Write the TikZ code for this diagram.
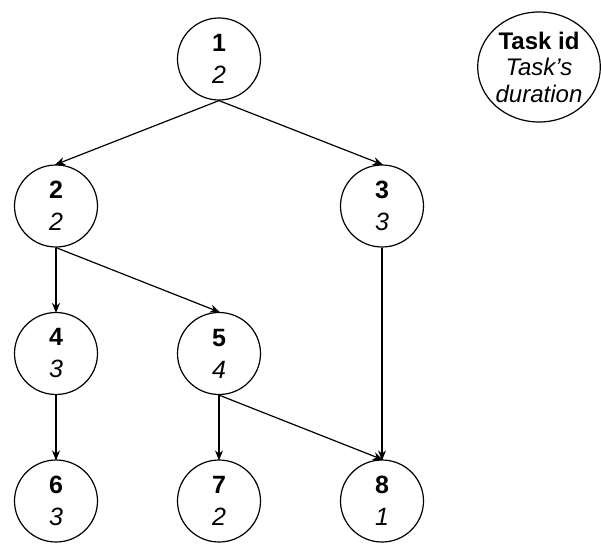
\documentclass[tikz,border=0pt]{standalone}
\usepackage{fontspec}
\setmainfont{Liberation Sans}
\usetikzlibrary{shapes.geometric,arrows.meta}
\tikzset{
  task/.style={draw, ellipse, line width=1.2pt, minimum width=83pt, minimum height=82pt,
    inner sep=0pt, align=center, font=\fontsize{25}{32}\selectfont},
  legend/.style={task, minimum width=118pt, minimum height=110pt, font=\fontsize{24}{26.5}\selectfont},
  dep/.style={-{Stealth[length=10pt,width=8pt]}, line width=1.2pt, shorten >=-1pt}
}
\newcommand{\tk}[2]{\textbf{#1}\\\textit{#2}}
\begin{document}
\begin{tikzpicture}[x=1pt,y=-1pt]
\useasboundingbox (0,0) rectangle (601,546);
\node[task] (n1) at (219,59) {\tk{1}{2}};
\node[task] (n2) at (56,206) {\tk{2}{2}};
\node[task] (n3) at (382,206) {\tk{3}{3}};
\node[task] (n4) at (56,353.5) {\tk{4}{3}};
\node[task] (n5) at (219,353.5) {\tk{5}{4}};
\node[task] (n6) at (56,501) {\tk{6}{3}};
\node[task] (n7) at (219,501) {\tk{7}{2}};
\node[task] (n8) at (382,501) {\tk{8}{1}};
\node[legend] (key) at (539,67) {\textbf{Task id}\\\textit{Task’s}\\\textit{duration}};
\draw[dep] (n1.south) -- (n2.north);
\draw[dep] (n1.south) -- (n3.north);
\draw[dep] (n2.south) -- (n4.north);
\draw[dep] (n2.south) -- (n5.north);
\draw[dep] (n3.south) -- (n8.north);
\draw[dep] (n4.south) -- (n6.north);
\draw[dep] (n5.south) -- (n7.north);
\draw[dep] (n5.south) -- (n8.north);
\end{tikzpicture}
\end{document}
